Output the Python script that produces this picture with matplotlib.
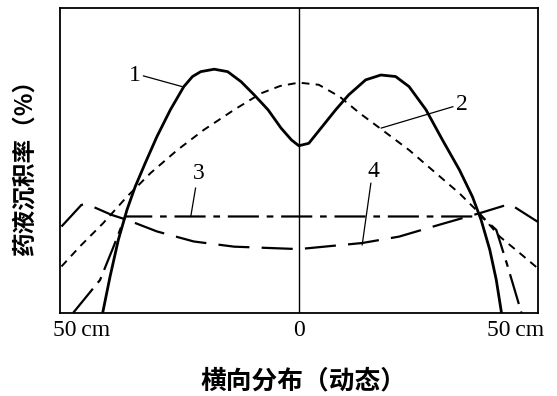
import numpy as np
import matplotlib
matplotlib.use('Agg')
import matplotlib.pyplot as plt

# curve 1: solid, double hump
c1_x = [-45.2, -43.5, -41.6, -39.6, -37.7, -35.4, -32.7, -29.6, -26.5, -24.5, -22.6, -19.5,
        -16.4, -13.3, -10.3, -7.1, -4.1, -1.7, 0.0, 2.3, 5.4, 8.5, 11.5, 15.4, 18.9, 22.3,
        25.4, 29.3, 33.1, 37.0, 40.0, 42.0, 44.0, 45.5, 46.7]
c1_y = [0.0, 11.9, 23.9, 33.8, 41.4, 49.1, 57.8, 66.6, 74.2, 77.5, 79.1, 79.9,
        79.1, 75.8, 71.5, 66.6, 60.6, 56.7, 54.8, 55.6, 61.1, 66.6, 71.5, 76.4, 78.0, 77.5,
        74.2, 66.6, 56.7, 46.9, 38.1, 30.5, 20.7, 10.8, 0.0]

# curve 2: short dashes, single hump
c2_x = [-54.7, -50.5, -45.1, -39.6, -34.2, -28.0, -21.9, -14.9, -8.7, -4.3, 0.0, 4.6, 9.4,
        14.0, 19.2, 25.4, 31.6, 37.0, 41.6, 46.3, 50.9, 55.0]
c2_y = [15.2, 21.7, 29.4, 38.1, 45.8, 53.4, 60.0, 66.6, 72.0, 74.4, 75.5, 74.8, 70.9,
        65.5, 60.0, 53.4, 45.8, 39.2, 32.7, 25.0, 19.6, 14.7]

# curve 3: dash-dot, flat
c3_x = [-52.0, -45.8, -42.7, -40.0, 0.0, 42.1, 45.5, 47.9, 50.2, 51.3]
c3_y = [0.0, 10.8, 21.7, 31.6, 31.6, 31.6, 27.2, 16.3, 5.3, 0.0]

# curve 4: long dashes, shallow U
c4_x = [-54.7, -50.1, -48.9, -43.1, -39.6, -32.7, -24.2, -14.9, 0.0,
        14.6, 23.1, 32.4, 41.7, 48.6, 55.0]
c4_y = [28.3, 35.4, 35.7, 32.1, 30.5, 26.7, 23.4, 21.7, 20.9,
        22.9, 25.0, 28.9, 32.7, 35.7, 29.9]

tick_pos = [-50, 0, 50]
tick_labels = ['50\u2009cm', '0', '50\u2009cm']

# curve number labels: (text, x, y, leader x0, y0, leader x1, y1)
curve_labels = [
    ('1', -37.7, 78.0, -35.8, 77.7, -26.9, 74.2),
    ('2', 37.5, 68.2, 35.5, 67.6, 19.0, 60.6),
    ('3', -23.0, 45.8, -23.8, 40.9, -24.9, 31.6),
    ('4', 17.1, 46.3, 16.6, 42.5, 14.6, 22.3),
]

serif = ['Liberation Serif', 'DejaVu Serif']
cjk = ['Noto Sans CJK SC', 'DejaVu Sans']

fig = plt.figure(figsize=(5.57, 3.96), dpi=100, facecolor='white')
ax = fig.add_axes([0.108, 0.21, 0.857, 0.77])

ax.plot(c1_x, c1_y, color='black', linewidth=2.0, solid_joinstyle='round')
ax.plot(c2_x, c2_y, color='black', linewidth=1.4, linestyle=(0, (4, 3.2)))
ax.plot(c3_x, c3_y, color='black', linewidth=1.6, linestyle=(0, (14, 3.5, 3, 3.5)))
ax.plot(c4_x, c4_y, color='black', linewidth=1.6, linestyle=(0, (14, 5.5)))

ax.axvline(0, color='black', linewidth=1.0)

for txt, tx, ty, lx0, ly0, lx1, ly1 in curve_labels:
    ax.text(tx, ty, txt, family=serif, fontsize=17, ha='center', va='center')
    ax.plot([lx0, lx1], [ly0, ly1], color='black', linewidth=0.9)

ax.set_xlim(-55, 55)
ax.set_ylim(0, 100)
ax.set_xticks(tick_pos)
ax.set_xticklabels(tick_labels, family=serif, fontsize=17)
ax.set_yticks([])
ax.tick_params(axis='x', length=0, pad=5)
for sp in ax.spines.values():
    sp.set_linewidth(1.3)

fig.text(0.045, 0.59, '药液沉积率（%）', family=cjk, fontsize=17, fontweight='bold',
         rotation=90, ha='center', va='center')
fig.text(0.544, 0.037, '横向分布（动态）', family=cjk, fontsize=18.5, fontweight='bold',
         ha='center', va='center')

fig.savefig('out.png', dpi=100, facecolor='white')
